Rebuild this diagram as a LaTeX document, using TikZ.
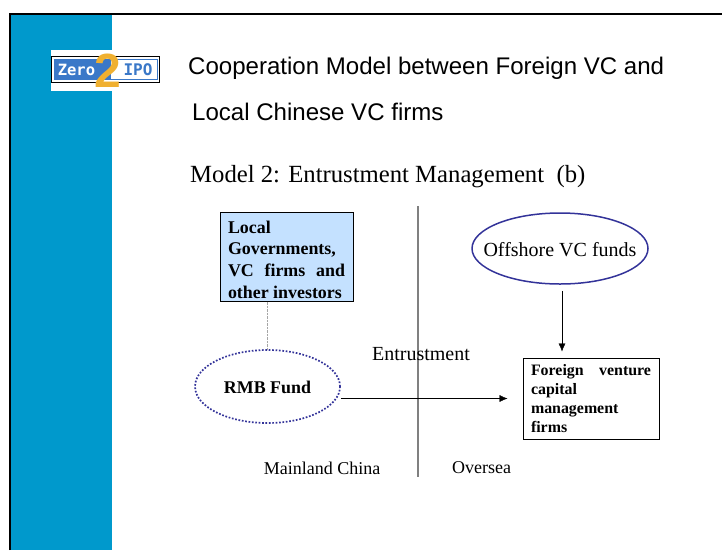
\documentclass[tikz,border=0pt]{standalone}
\usepackage{fontspec}
\setmainfont{Liberation Serif}
\setsansfont{Liberation Sans}
\setmonofont{DejaVu Sans Mono}
\usetikzlibrary{shapes.geometric,arrows.meta}
\definecolor{slideblue}{HTML}{0099CC}
\definecolor{boxblue}{HTML}{C4E1FF}
\definecolor{ringblue}{HTML}{333399}
\definecolor{logoblue}{HTML}{3A78C8}
\definecolor{logoorange}{HTML}{F0B030}
\tikzset{
  slidetext/.style={inner sep=0pt, anchor=west, font=\sffamily\fontsize{24.05}{28}\selectfont},
  plaintext/.style={inner sep=0pt, font=\fontsize{20}{24}\selectfont},
  smalltext/.style={inner sep=0pt, font=\fontsize{18}{22}\selectfont},
  fundring/.style={ellipse, ringblue, inner sep=0pt, text=black},
  wordbox/.style={draw, line width=1pt, inner sep=0pt, font=\bfseries},
  flowarrow/.style={-{Latex[length=8pt,width=7pt]}}
}
\begin{document}
\begin{tikzpicture}[x=1pt,y=-1pt]
\useasboundingbox (0,0) rectangle (722,550);
% Slide background
\fill[slideblue] (9,13) rectangle (112,550);
\draw[line width=2pt] (9.5,550) -- (9.5,13.5) -- (722,13.5);

% Logo
\fill[white] (51,50) rectangle (112,91);
\node[draw, fill=white, minimum width=108pt, minimum height=26pt, inner sep=0pt] (logo) at (105.5,69.5) {};
\fill[logoblue] (54,59) rectangle (110,80);
\draw[logoblue, line width=1pt] (110,59.5) rectangle (157,79.5);
\node[inner sep=0pt, text=white, font=\ttfamily\bfseries\fontsize{15.5}{16}\selectfont] (zero) at (76.5,69.5) {Zero};
\node[inner sep=0pt, text=logoblue, font=\ttfamily\bfseries\fontsize{16}{16}\selectfont] (ipo) at (138,69.5) {IPO};
\node[inner sep=0pt, text=logoorange, font=\sffamily\bfseries\fontsize{48}{48}\selectfont] (two) at (108,70.5) {2};

% Titles
\node[slidetext] (title1) at (188,68) {Cooperation Model between Foreign VC and};
\node[slidetext] (title2) at (192,112) {Local Chinese VC firms};
\node[inner sep=0pt, anchor=west, font=\fontsize{24.7}{28}\selectfont] (model) at (190,177) {Model 2: Entrustment Management\ \ (b)};

% Divider
\coordinate (divtop) at (418,206);
\coordinate (divbot) at (418,477);
\draw[gray, line width=1.2pt] (divtop) -- (divbot);

% Left side
\node[wordbox, fill=boxblue, minimum width=133pt, minimum height=89pt] (investors) at (286.5,256.5) {};
\node[inner sep=0pt, text width=117pt, align=justify, font=\bfseries\fontsize{17.9}{21.7}\selectfont] (investorstext) at (286.5,259.5) {Local\\Governments,\\VC firms and\linebreak other investors};
\node[fundring, draw, line width=1.7pt, dash pattern=on 1.7pt off 1.7pt, minimum width=145pt, minimum height=73pt] (rmb) at (267.5,386.5) {};
\node[inner sep=0pt, font=\bfseries\fontsize{17.9}{22}\selectfont] (rmbtext) at (267.5,387) {RMB Fund};

% Right side
\node[fundring, draw, line width=1.5pt, minimum width=176pt, minimum height=71pt] (offshore) at (560,248.5) {};
\node[plaintext] (offshoretext) at (560,250) {Offshore VC funds};
\node[wordbox, minimum width=136pt, minimum height=81pt] (firms) at (591,398.5) {};
\node[inner sep=0pt, text width=120pt, align=justify, font=\bfseries\fontsize{15.9}{19}\selectfont] (firmstext) at (591,398.5) {Foreign venture\linebreak capital\\management\\firms};

% Arrows
\draw[gray!70, densely dotted] (rmb.north |- investors.south) -- (rmb.north);
\draw[flowarrow, shorten <=6pt, shorten >=6pt] (offshore.south -| 562,0) -- (firms.north -| 562,0);
\draw[flowarrow, shorten >=15pt] (rmb.east |- firms.west) -- (firms.west);

% Labels
\node[plaintext] (entrust) at (421,354) {Entrustment};
\node[smalltext] (mainland) at (322,468) {Mainland China};
\node[smalltext] (oversea) at (481.5,468) {Oversea};
\end{tikzpicture}
\end{document}
